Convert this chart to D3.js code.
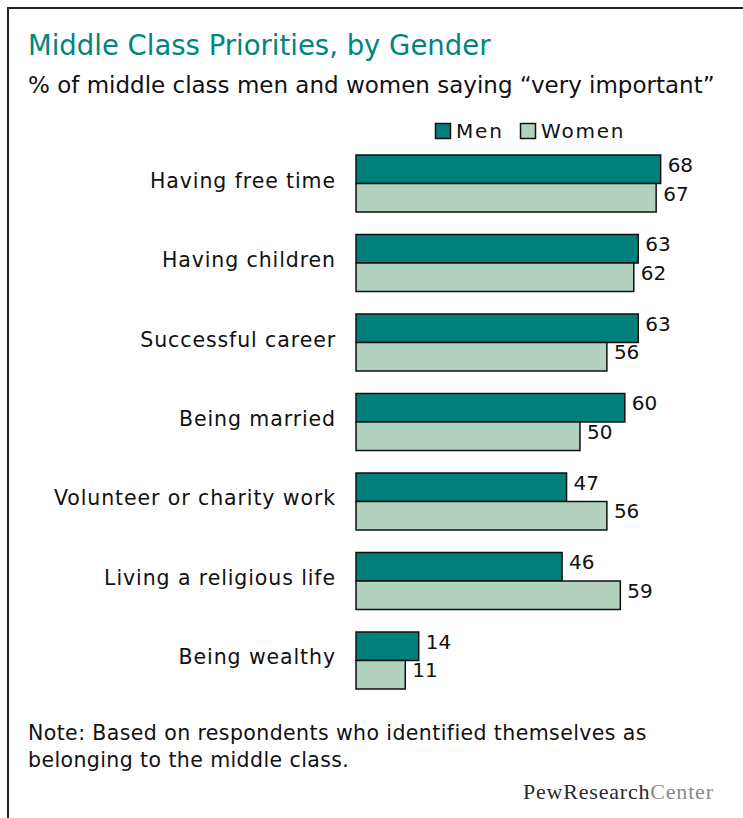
<!DOCTYPE html>
<html>
<head>
<meta charset="utf-8">
<script src="https://cdn.jsdelivr.net/npm/d3@7"></script>
<style>
  html, body { margin: 0; padding: 0; background: #fff; }
  svg { display: block; }
  text { font-family: "DejaVu Sans", sans-serif; }
</style>
</head>
<body>
<script>
// Survey results: share of middle class men and women calling each item "very important"
const categories = [
  "Having free time",
  "Having children",
  "Successful career",
  "Being married",
  "Volunteer or charity work",
  "Living a religious life",
  "Being wealthy"
];
const menValues   = [68, 63, 63, 60, 47, 46, 14];
const womenValues = [67, 62, 56, 50, 56, 59, 11];
const seriesNames = ["Men", "Women"];
const seriesColors = ["#007f7b", "#b3d1bf"];

const W = 743, H = 818;
const svg = d3.select("body").append("svg").attr("width", W).attr("height", H);

// frame (top and left edges)
svg.append("path")
  .attr("d", `M8,${H} L8,8 L${W},8`)
  .attr("fill", "none").attr("stroke", "#222").attr("stroke-width", 2);

// headings
svg.append("text").attr("x", 28).attr("y", 55)
  .attr("fill", "#00857f").attr("font-size", 27.5)
  .text("Middle Class Priorities, by Gender");
svg.append("text").attr("x", 28).attr("y", 93)
  .attr("fill", "#111").attr("font-size", 23)
  .text("% of middle class men and women saying \u201cvery important\u201d");

// scales
const x = d3.scaleLinear().domain([0, 100]).range([356, 356 + 448]);
const y = d3.scaleBand().domain(categories).range([155, 689]).paddingInner(0.283).paddingOuter(0);
const ySub = d3.scaleBand().domain(seriesNames).range([0, y.bandwidth()]);
const color = d3.scaleOrdinal().domain(seriesNames).range(seriesColors);

const rows = categories.map((c, i) => ({
  category: c,
  values: [
    { series: "Men", value: menValues[i] },
    { series: "Women", value: womenValues[i] }
  ]
}));

// category labels
svg.append("g").selectAll("text").data(categories).join("text")
  .attr("x", 336)
  .attr("y", d => y(d) + y.bandwidth() / 2 + 4)
  .attr("text-anchor", "end")
  .attr("font-size", 20.5)
  .attr("letter-spacing", 0.9)
  .attr("fill", "#111")
  .text(d => d);

// bars
const groups = svg.append("g").selectAll("g").data(rows).join("g")
  .attr("transform", d => `translate(0,${y(d.category)})`);

groups.selectAll("rect").data(d => d.values).join("rect")
  .attr("x", x(0))
  .attr("y", d => ySub(d.series))
  .attr("width", d => x(d.value) - x(0))
  .attr("height", ySub.bandwidth())
  .attr("fill", d => color(d.series))
  .attr("stroke", "#111")
  .attr("stroke-width", 1.5);

// value labels
groups.selectAll("text").data(d => d.values).join("text")
  .attr("x", d => x(d.value) + 7)
  .attr("y", d => ySub(d.series) + 17)
  .attr("font-size", 20)
  .attr("fill", "#111")
  .text(d => d.value);

// legend
const legend = svg.append("g").selectAll("g").data(seriesNames).join("g")
  .attr("transform", (d, i) => `translate(${[435, 520][i]},123)`);
legend.append("rect")
  .attr("x", 0.5).attr("y", 0.5)
  .attr("width", 15).attr("height", 15)
  .attr("fill", d => color(d))
  .attr("stroke", "#111").attr("stroke-width", 1.5);
legend.append("text")
  .attr("x", 21).attr("y", 15)
  .attr("font-size", 20).attr("letter-spacing", 1.8).attr("fill", "#111")
  .text(d => d);

// note
const note = svg.append("text").attr("x", 28).attr("y", 740)
  .attr("font-size", 20.5).attr("letter-spacing", 0.4).attr("fill", "#111");
note.append("tspan").attr("x", 28).text("Note: Based on respondents who identified themselves as");
note.append("tspan").attr("x", 28).attr("dy", 27).text("belonging to the middle class.");

// source mark
const logo = svg.append("text").attr("x", 523).attr("y", 799)
  .attr("font-size", 22).attr("letter-spacing", 0.8)
  .style("font-family", "'Liberation Serif', 'DejaVu Serif', serif");
logo.append("tspan").attr("fill", "#2a2a2a").text("PewResearch");
logo.append("tspan").attr("fill", "#8a8a8a").text("Center");
</script>
</body>
</html>
